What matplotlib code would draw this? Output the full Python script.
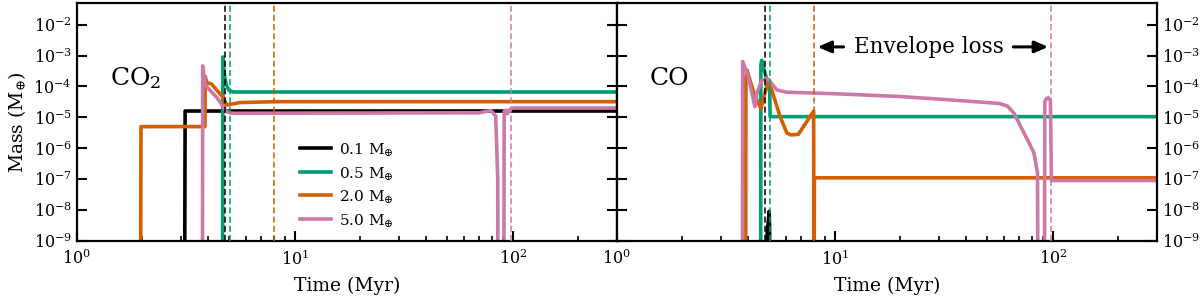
import matplotlib
matplotlib.use("Agg")
import matplotlib.pyplot as plt
from matplotlib.ticker import NullFormatter

plt.rcParams['font.family'] = ['DejaVu Serif']
plt.rcParams['mathtext.fontset'] = 'dejavuserif'

# masses (legend) and colours
labels = [r"0.1 M$_{\oplus}$", r"0.5 M$_{\oplus}$", r"2.0 M$_{\oplus}$", r"5.0 M$_{\oplus}$"]
colors = ["black", "#009E73", "#D55E00", "#CC79A7"]

# envelope loss times (Myr), one per mass
t_loss = [4.8, 5.05, 8.05, 98.6]

# values below 1e-9 sit under the axis floor
floor = 1e-12

# ---- CO2 panel ----
co2_t01 = [1, 3.12, 3.14, 300]
co2_m01 = [floor, floor, 1.6e-5, 1.6e-5]

co2_t05 = [1, 4.66, 4.68, 4.75, 4.85, 5.0, 5.2, 300]
co2_m05 = [floor, floor, 9e-4, 2.5e-4, 1.1e-4, 7.5e-5, 6.6e-5, 6.6e-5]

co2_t20 = [1, 1.96, 1.97, 3.87, 3.88, 3.95, 4.15, 4.7, 4.88, 5.6, 8.0, 300]
co2_m20 = [floor, floor, 5e-6, 5e-6, 2.1e-4, 1.3e-4, 1.2e-4, 4.3e-5, 2.5e-5, 3.0e-5, 3.2e-5, 3.2e-5]

co2_t50 = [1, 3.77, 3.78, 3.88, 4.4, 4.88, 5.15, 70, 79.5, 83.5, 85.3, 85.5, 91.0,
           91.3, 93.5, 94.5, 96.5, 99.5, 300]
co2_m50 = [floor, floor, 4.6e-4, 1.1e-4, 4.3e-5, 1.5e-5, 1.35e-5, 1.4e-5, 1.65e-5, 1.1e-5,
           1e-7, floor, floor, 1.6e-5, 1.7e-5, 1.3e-5, 1.7e-5, 2.0e-5, 2.0e-5]

# ---- CO panel ----
co_t01 = [1, 4.85, 4.9, 4.95, 5.0, 5.02, 5.05, 300]
co_m01 = [floor, floor, 2e-9, 4e-9, 9e-9, 3e-9, floor, floor]

co_t05 = [1, 4.57, 4.58, 4.62, 4.88, 5.03, 5.05, 300]
co_m05 = [floor, floor, 5e-4, 7e-4, 1.6e-4, 6.6e-5, 1.05e-5, 1.05e-5]

co_t20 = [1, 3.9, 3.91, 3.95, 4.26, 4.58, 4.96, 5.61, 6.03, 6.3, 6.8, 7.7, 8.0,
          8.03, 8.06, 300]
co_m20 = [floor, floor, 2e-4, 3.4e-4, 6e-5, 1.9e-5, 1.7e-4, 1.05e-5, 3.1e-6, 2.7e-6,
          2.8e-6, 1.05e-5, 1.6e-5, floor, 1.1e-7, 1.1e-7]

co_t50 = [1, 3.77, 3.78, 4.01, 4.3, 4.39, 4.63, 4.88, 5.05, 5.42, 6.0, 10, 20, 35, 57,
          62, 66.4, 70, 73.8, 77.8, 82, 85.1, 85.6, 91.5, 91.9, 93.5, 95.5, 97.5,
          98.6, 300]
co_m50 = [floor, floor, 6.4e-4, 2.1e-4, 2.2e-5, 6e-5, 1.6e-4, 1.75e-4, 1.45e-4, 7.7e-5,
          6.5e-5, 5.8e-5, 4.7e-5, 3.6e-5, 2.8e-5, 2.3e-5, 1.35e-5, 6.5e-6, 3.1e-6,
          1.5e-6, 6.9e-7, 1.55e-7, floor, floor, 3.2e-5, 4e-5, 4.3e-5, 3.5e-5, 9e-8, 9e-8]

co2_t = [co2_t01, co2_t05, co2_t20, co2_t50]
co2_m = [co2_m01, co2_m05, co2_m20, co2_m50]
co_t = [co_t01, co_t05, co_t20, co_t50]
co_m = [co_m01, co_m05, co_m20, co_m50]

fig = plt.figure(figsize=(12, 3.03), dpi=100)
ax1 = fig.add_axes([0.064, 0.205, 0.450, 0.785])
ax2 = fig.add_axes([0.514, 0.205, 0.450, 0.785])

for ax, ts, ms in [(ax1, co2_t, co2_m), (ax2, co_t, co_m)]:
	for t, m, c, lab in zip(ts, ms, colors, labels):
		ax.plot(t, m, c=c, lw=2.6, label=lab)
	for tl, c in zip(t_loss, colors):
		ax.axvline(tl, c=c, lw=1.1, ls=(0, (4, 2)), zorder=5)

	ax.set_xscale("log")
	ax.set_yscale("log")
	ax.set_xlim(1, 300)
	ax.set_ylim(1e-9, 5e-2)
	ax.set_yticks([10.0**k for k in range(-9, -1)])
	ax.yaxis.set_minor_formatter(NullFormatter())
	ax.tick_params(axis="y", which="minor", left=False, right=False)
	ax.tick_params(axis="y", which="major", direction="in", left=True, right=True,
	               length=7, width=1.5, labelsize=11.5)
	ax.tick_params(axis="x", which="major", direction="in", length=7, width=1.5,
	               labelsize=11.5, pad=6)
	ax.tick_params(axis="x", which="minor", direction="in", length=3.5, width=1.2)
	for s in ax.spines.values():
		s.set_linewidth(1.6)
	ax.set_xlabel("Time (Myr)", fontsize=13.5, labelpad=6)

ax1.set_ylabel(r"Mass (M$_{\oplus}$)", fontsize=13.5)
ax2.tick_params(axis="y", labelleft=False, labelright=True)

ax1.text(1.42, 1.1e-4, r"CO$_2$", fontsize=18)
ax2.text(1.42, 1.1e-4, "CO", fontsize=18)

ax1.legend(loc="lower center", frameon=False, fontsize=11, handlelength=2.0,
           handletextpad=0.5, labelspacing=0.45, borderaxespad=0.4)

# envelope loss annotation
ax2.text(27, 1.9e-3, "Envelope loss", fontsize=15.5, ha="center", va="center")
arrow = dict(arrowstyle="-|>,head_length=0.8,head_width=0.35", lw=2.2, color="black")
ax2.annotate("", xy=(8.1, 1.9e-3), xytext=(11.3, 1.9e-3), arrowprops=arrow)
ax2.annotate("", xy=(98, 1.9e-3), xytext=(64, 1.9e-3), arrowprops=arrow)

fig.savefig("out.png", dpi=100)
